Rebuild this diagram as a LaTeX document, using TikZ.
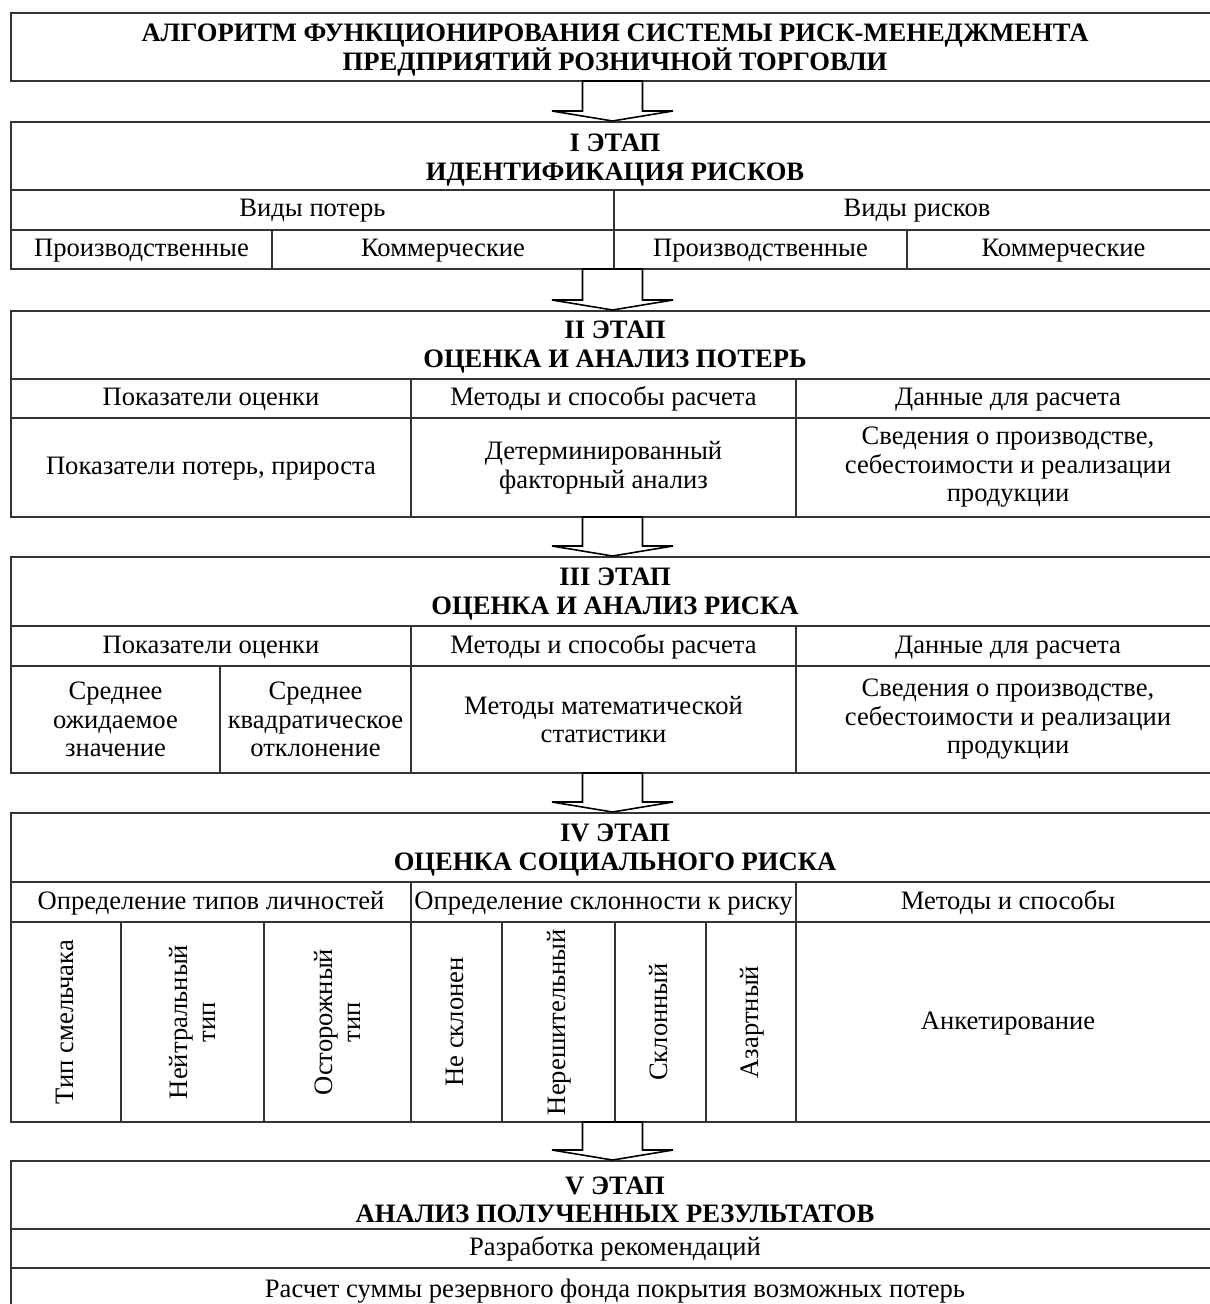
\documentclass[tikz,border=0pt]{standalone}
\usepackage{fontspec}
\setmainfont{Liberation Serif}
\usetikzlibrary{calc}

\begin{document}
\begin{tikzpicture}[x=0.5pt, y=-0.5pt,
	every node/.style={font=\fontsize{13.3}{14.25}\selectfont, align=center, inner sep=0pt},
	head/.style={font=\fontsize{13.3}{14.25}\selectfont\bfseries},
	line/.style={text height=10pt, text depth=3pt},
	frame/.style={draw=black!80, line width=0.8pt},
	grid/.style={draw=black!80, line width=0.6pt},
	blockarrow/.style={draw=black, fill=white, line width=0.8pt, line join=miter}]
	\useasboundingbox (0,0) rectangle (1209,1304);
	% title
	\draw[frame] (11,13) rectangle (1220,81);
	\node[head] (title) at (615,50) {АЛГОРИТМ ФУНКЦИОНИРОВАНИЯ СИСТЕМЫ РИСК-МЕНЕДЖМЕНТА\\ПРЕДПРИЯТИЙ РОЗНИЧНОЙ ТОРГОВЛИ};
	% stage I
	\draw[frame] (11,122) rectangle (1220,269);
	\draw[grid] (11,190) -- (1220,190) (11,230) -- (1220,230) (614,190) -- (614,269) (272,230) -- (272,269) (907,230) -- (907,269);
	\node[head] (s1) at (615,160) {I ЭТАП\\ИДЕНТИФИКАЦИЯ РИСКОВ};
	\node[line] (lossK) at (312.5,210) {Виды потерь};
	\node[line] (riskK) at (917,210) {Виды рисков};
	\node[line] (lossP) at (141.5,249.5) {Производственные};
	\node[line] (lossC) at (443,249.5) {Коммерческие};
	\node[line] (riskP) at (760.5,249.5) {Производственные};
	\node[line] (riskC) at (1063.5,249.5) {Коммерческие};
	% stage II
	\draw[frame] (11,311) rectangle (1220,517);
	\draw[grid] (11,379) -- (1220,379) (11,418) -- (1220,418) (411,379) -- (411,517) (796,379) -- (796,517);
	\node[head] (s2) at (615,347) {II ЭТАП\\ОЦЕНКА И АНАЛИЗ ПОТЕРЬ};
	\node[line] (ind2) at (211,398.5) {Показатели оценки};
	\node[line] (meth2) at (603.5,398.5) {Методы и способы расчета};
	\node[line] (data2) at (1008,398.5) {Данные для расчета};
	\node[line] (loss2) at (211,467.5) {Показатели потерь, прироста};
	\node (fact2) at (603.5,467.5) {Детерминированный\\факторный анализ};
	\node (info2) at (1008,467.5) {Сведения о производстве,\\себестоимости и реализации\\продукции};
	% stage III
	\draw[frame] (11,557) rectangle (1220,773);
	\draw[grid] (11,626) -- (1220,626) (11,666) -- (1220,666) (411,626) -- (411,773) (796,626) -- (796,773) (220,666) -- (220,773);
	\node[head] (s3) at (615,594) {III ЭТАП\\ОЦЕНКА И АНАЛИЗ РИСКА};
	\node[line] (ind3) at (211,646) {Показатели оценки};
	\node[line] (meth3) at (603.5,646) {Методы и способы расчета};
	\node[line] (data3) at (1008,646) {Данные для расчета};
	\node (mean3) at (115.5,719.5) {Среднее\\ожидаемое\\значение};
	\node (dev3) at (315.5,719.5) {Среднее\\квадратическое\\отклонение};
	\node (stat3) at (603.5,719.5) {Методы математической\\статистики};
	\node (info3) at (1008,719.5) {Сведения о производстве,\\себестоимости и реализации\\продукции};
	% stage IV
	\draw[frame] (11,813) rectangle (1220,1122);
	\draw[grid] (11,882) -- (1220,882) (11,922) -- (1220,922) (411,882) -- (411,1122) (796,882) -- (796,1122);
	\foreach \x in {121,264,502,615,706}
		\draw[grid] (\x,922) -- (\x,1122);
	\node[head] (s4) at (615,850) {IV ЭТАП\\ОЦЕНКА СОЦИАЛЬНОГО РИСКА};
	\node[line] (types4) at (211,902) {Определение типов личностей};
	\node[line] (incl4) at (603.5,902) {Определение склонности к риску};
	\node[line] (meth4) at (1008,902) {Методы и способы};
	\node[line, rotate=90] (bold4) at (66,1022) {Тип смельчака};
	\node[rotate=90] (neut4) at (192.5,1022) {Нейтральный\\тип};
	\node[rotate=90] (care4) at (337.5,1022) {Осторожный\\тип};
	\node[line, rotate=90] (no4) at (456.5,1022) {Не склонен};
	\node[line, rotate=90] (hes4) at (558.5,1022) {Нерешительный};
	\node[line, rotate=90] (yes4) at (660.5,1022) {Склонный};
	\node[line, rotate=90] (gamb4) at (751,1022) {Азартный};
	\node[line] (poll4) at (1008,1022) {Анкетирование};
	% stage V
	\draw[frame] (11,1161) rectangle (1220,1316);
	\draw[grid] (11,1229) -- (1220,1229) (11,1268) -- (1220,1268);
	\node[head] (s5) at (615,1200) {V ЭТАП\\АНАЛИЗ ПОЛУЧЕННЫХ РЕЗУЛЬТАТОВ};
	\node[line] (recs5) at (615,1248.5) {Разработка рекомендаций};
	\node[line] (fund5) at (615,1290) {Расчет суммы резервного фонда покрытия возможных потерь};
	% arrows between stages
	\coordinate (titleS) at (612.5,81);
	\coordinate (s1N) at (612.5,121);
	\coordinate (s1S) at (612.5,269);
	\coordinate (s2N) at (612.5,310);
	\coordinate (s2S) at (612.5,517);
	\coordinate (s3N) at (612.5,556);
	\coordinate (s3S) at (612.5,773);
	\coordinate (s4N) at (612.5,812);
	\coordinate (s4S) at (612.5,1122);
	\coordinate (s5N) at (612.5,1160);
	\foreach \a/\b in {titleS/s1N, s1S/s2N, s2S/s3N, s3S/s4N, s4S/s5N}
		\draw[blockarrow] ($(\a)+(-30,0)$) -- ($(\b)+(-30,-10)$) -- ($(\b)+(-60.5,-10)$) -- (\b)
			-- ($(\b)+(60.5,-10)$) -- ($(\b)+(30,-10)$) -- ($(\a)+(30,0)$) -- cycle;
\end{tikzpicture}
\end{document}
